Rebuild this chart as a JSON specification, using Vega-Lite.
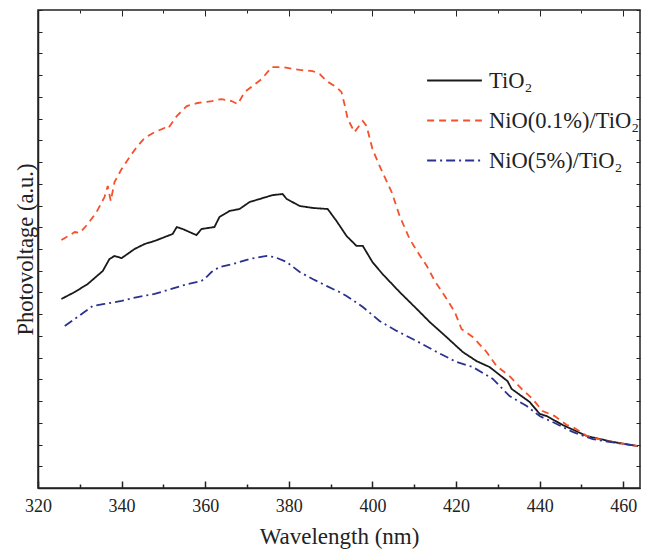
{
  "$schema": "https://vega.github.io/schema/vega-lite/v6.json",
  "width": 602,
  "height": 478,
  "autosize": "none",
  "padding": {"left": 38, "top": 10, "right": 5, "bottom": 64},
  "background": "white",
  "config": {
    "view": {"stroke": "#222", "strokeWidth": 1.5},
    "font": "Times New Roman, Liberation Serif, DejaVu Serif, serif"
  },
  "data": {
    "values": [
      {"s": "TiO₂", "wl": 325.6, "v": 8.70},
      {"s": "TiO₂", "wl": 328.8, "v": 9.02},
      {"s": "TiO₂", "wl": 331.9, "v": 9.39},
      {"s": "TiO₂", "wl": 335.5, "v": 9.99},
      {"s": "TiO₂", "wl": 337.1, "v": 10.54},
      {"s": "TiO₂", "wl": 338.3, "v": 10.68},
      {"s": "TiO₂", "wl": 340.0, "v": 10.58},
      {"s": "TiO₂", "wl": 343.1, "v": 11.00},
      {"s": "TiO₂", "wl": 345.5, "v": 11.23},
      {"s": "TiO₂", "wl": 347.9, "v": 11.37},
      {"s": "TiO₂", "wl": 350.3, "v": 11.55},
      {"s": "TiO₂", "wl": 352.2, "v": 11.69},
      {"s": "TiO₂", "wl": 353.2, "v": 12.01},
      {"s": "TiO₂", "wl": 354.6, "v": 11.92},
      {"s": "TiO₂", "wl": 357.9, "v": 11.64},
      {"s": "TiO₂", "wl": 359.1, "v": 11.92},
      {"s": "TiO₂", "wl": 362.2, "v": 12.01},
      {"s": "TiO₂", "wl": 363.4, "v": 12.47},
      {"s": "TiO₂", "wl": 365.8, "v": 12.75},
      {"s": "TiO₂", "wl": 368.2, "v": 12.84},
      {"s": "TiO₂", "wl": 370.6, "v": 13.16},
      {"s": "TiO₂", "wl": 373.0, "v": 13.30},
      {"s": "TiO₂", "wl": 376.1, "v": 13.48},
      {"s": "TiO₂", "wl": 378.5, "v": 13.53},
      {"s": "TiO₂", "wl": 379.5, "v": 13.30},
      {"s": "TiO₂", "wl": 382.6, "v": 12.98},
      {"s": "TiO₂", "wl": 385.7, "v": 12.89},
      {"s": "TiO₂", "wl": 389.3, "v": 12.84},
      {"s": "TiO₂", "wl": 391.4, "v": 12.29},
      {"s": "TiO₂", "wl": 393.8, "v": 11.60},
      {"s": "TiO₂", "wl": 396.2, "v": 11.14},
      {"s": "TiO₂", "wl": 397.7, "v": 11.14},
      {"s": "TiO₂", "wl": 400.0, "v": 10.40},
      {"s": "TiO₂", "wl": 402.4, "v": 9.85},
      {"s": "TiO₂", "wl": 406.5, "v": 9.02},
      {"s": "TiO₂", "wl": 410.6, "v": 8.24},
      {"s": "TiO₂", "wl": 413.7, "v": 7.64},
      {"s": "TiO₂", "wl": 417.7, "v": 6.95},
      {"s": "TiO₂", "wl": 421.6, "v": 6.26},
      {"s": "TiO₂", "wl": 424.9, "v": 5.84},
      {"s": "TiO₂", "wl": 428.0, "v": 5.57},
      {"s": "TiO₂", "wl": 432.3, "v": 4.92},
      {"s": "TiO₂", "wl": 433.3, "v": 4.56},
      {"s": "TiO₂", "wl": 437.6, "v": 3.96},
      {"s": "TiO₂", "wl": 440.0, "v": 3.41},
      {"s": "TiO₂", "wl": 441.7, "v": 3.31},
      {"s": "TiO₂", "wl": 445.5, "v": 2.90},
      {"s": "TiO₂", "wl": 451.3, "v": 2.39},
      {"s": "TiO₂", "wl": 457.5, "v": 2.12},
      {"s": "TiO₂", "wl": 463.5, "v": 1.93},
      {"s": "NiO(0.1%)/TiO₂", "wl": 325.6, "v": 11.41},
      {"s": "NiO(0.1%)/TiO₂", "wl": 328.8, "v": 11.78},
      {"s": "NiO(0.1%)/TiO₂", "wl": 330.0, "v": 11.74},
      {"s": "NiO(0.1%)/TiO₂", "wl": 331.9, "v": 12.15},
      {"s": "NiO(0.1%)/TiO₂", "wl": 334.0, "v": 12.70},
      {"s": "NiO(0.1%)/TiO₂", "wl": 335.9, "v": 13.39},
      {"s": "NiO(0.1%)/TiO₂", "wl": 336.7, "v": 13.90},
      {"s": "NiO(0.1%)/TiO₂", "wl": 337.4, "v": 13.21},
      {"s": "NiO(0.1%)/TiO₂", "wl": 338.3, "v": 14.08},
      {"s": "NiO(0.1%)/TiO₂", "wl": 340.0, "v": 14.68},
      {"s": "NiO(0.1%)/TiO₂", "wl": 341.9, "v": 15.23},
      {"s": "NiO(0.1%)/TiO₂", "wl": 343.6, "v": 15.69},
      {"s": "NiO(0.1%)/TiO₂", "wl": 345.5, "v": 16.11},
      {"s": "NiO(0.1%)/TiO₂", "wl": 347.9, "v": 16.38},
      {"s": "NiO(0.1%)/TiO₂", "wl": 350.3, "v": 16.57},
      {"s": "NiO(0.1%)/TiO₂", "wl": 351.0, "v": 16.52},
      {"s": "NiO(0.1%)/TiO₂", "wl": 353.2, "v": 17.12},
      {"s": "NiO(0.1%)/TiO₂", "wl": 355.6, "v": 17.58},
      {"s": "NiO(0.1%)/TiO₂", "wl": 358.2, "v": 17.72},
      {"s": "NiO(0.1%)/TiO₂", "wl": 361.6, "v": 17.81},
      {"s": "NiO(0.1%)/TiO₂", "wl": 363.9, "v": 17.90},
      {"s": "NiO(0.1%)/TiO₂", "wl": 366.3, "v": 17.81},
      {"s": "NiO(0.1%)/TiO₂", "wl": 367.8, "v": 17.67},
      {"s": "NiO(0.1%)/TiO₂", "wl": 369.4, "v": 18.22},
      {"s": "NiO(0.1%)/TiO₂", "wl": 371.3, "v": 18.50},
      {"s": "NiO(0.1%)/TiO₂", "wl": 373.5, "v": 18.82},
      {"s": "NiO(0.1%)/TiO₂", "wl": 375.9, "v": 19.37},
      {"s": "NiO(0.1%)/TiO₂", "wl": 378.5, "v": 19.37},
      {"s": "NiO(0.1%)/TiO₂", "wl": 382.6, "v": 19.24},
      {"s": "NiO(0.1%)/TiO₂", "wl": 385.7, "v": 19.19},
      {"s": "NiO(0.1%)/TiO₂", "wl": 387.4, "v": 19.05},
      {"s": "NiO(0.1%)/TiO₂", "wl": 389.0, "v": 18.73},
      {"s": "NiO(0.1%)/TiO₂", "wl": 391.4, "v": 18.45},
      {"s": "NiO(0.1%)/TiO₂", "wl": 392.6, "v": 18.22},
      {"s": "NiO(0.1%)/TiO₂", "wl": 393.3, "v": 17.67},
      {"s": "NiO(0.1%)/TiO₂", "wl": 394.1, "v": 16.98},
      {"s": "NiO(0.1%)/TiO₂", "wl": 395.7, "v": 16.38},
      {"s": "NiO(0.1%)/TiO₂", "wl": 397.7, "v": 16.89},
      {"s": "NiO(0.1%)/TiO₂", "wl": 398.6, "v": 16.66},
      {"s": "NiO(0.1%)/TiO₂", "wl": 400.0, "v": 15.60},
      {"s": "NiO(0.1%)/TiO₂", "wl": 401.7, "v": 14.82},
      {"s": "NiO(0.1%)/TiO₂", "wl": 404.6, "v": 13.62},
      {"s": "NiO(0.1%)/TiO₂", "wl": 406.5, "v": 12.52},
      {"s": "NiO(0.1%)/TiO₂", "wl": 408.9, "v": 11.46},
      {"s": "NiO(0.1%)/TiO₂", "wl": 410.8, "v": 10.86},
      {"s": "NiO(0.1%)/TiO₂", "wl": 413.0, "v": 10.22},
      {"s": "NiO(0.1%)/TiO₂", "wl": 414.9, "v": 9.53},
      {"s": "NiO(0.1%)/TiO₂", "wl": 417.3, "v": 8.84},
      {"s": "NiO(0.1%)/TiO₂", "wl": 419.7, "v": 8.10},
      {"s": "NiO(0.1%)/TiO₂", "wl": 421.3, "v": 7.32},
      {"s": "NiO(0.1%)/TiO₂", "wl": 424.0, "v": 6.95},
      {"s": "NiO(0.1%)/TiO₂", "wl": 427.3, "v": 6.26},
      {"s": "NiO(0.1%)/TiO₂", "wl": 429.7, "v": 5.61},
      {"s": "NiO(0.1%)/TiO₂", "wl": 432.8, "v": 5.15},
      {"s": "NiO(0.1%)/TiO₂", "wl": 435.7, "v": 4.56},
      {"s": "NiO(0.1%)/TiO₂", "wl": 438.3, "v": 4.10},
      {"s": "NiO(0.1%)/TiO₂", "wl": 440.7, "v": 3.54},
      {"s": "NiO(0.1%)/TiO₂", "wl": 443.6, "v": 3.31},
      {"s": "NiO(0.1%)/TiO₂", "wl": 446.5, "v": 2.90},
      {"s": "NiO(0.1%)/TiO₂", "wl": 447.9, "v": 2.81},
      {"s": "NiO(0.1%)/TiO₂", "wl": 451.3, "v": 2.39},
      {"s": "NiO(0.1%)/TiO₂", "wl": 456.0, "v": 2.16},
      {"s": "NiO(0.1%)/TiO₂", "wl": 463.5, "v": 1.93},
      {"s": "NiO(5%)/TiO₂", "wl": 326.4, "v": 7.46},
      {"s": "NiO(5%)/TiO₂", "wl": 328.8, "v": 7.78},
      {"s": "NiO(5%)/TiO₂", "wl": 331.1, "v": 8.10},
      {"s": "NiO(5%)/TiO₂", "wl": 333.1, "v": 8.38},
      {"s": "NiO(5%)/TiO₂", "wl": 335.9, "v": 8.47},
      {"s": "NiO(5%)/TiO₂", "wl": 340.0, "v": 8.61},
      {"s": "NiO(5%)/TiO₂", "wl": 343.8, "v": 8.79},
      {"s": "NiO(5%)/TiO₂", "wl": 347.9, "v": 8.93},
      {"s": "NiO(5%)/TiO₂", "wl": 351.9, "v": 9.16},
      {"s": "NiO(5%)/TiO₂", "wl": 355.8, "v": 9.39},
      {"s": "NiO(5%)/TiO₂", "wl": 359.1, "v": 9.53},
      {"s": "NiO(5%)/TiO₂", "wl": 360.3, "v": 9.71},
      {"s": "NiO(5%)/TiO₂", "wl": 361.5, "v": 9.94},
      {"s": "NiO(5%)/TiO₂", "wl": 363.4, "v": 10.17},
      {"s": "NiO(5%)/TiO₂", "wl": 366.6, "v": 10.31},
      {"s": "NiO(5%)/TiO₂", "wl": 370.6, "v": 10.54},
      {"s": "NiO(5%)/TiO₂", "wl": 374.7, "v": 10.68},
      {"s": "NiO(5%)/TiO₂", "wl": 376.6, "v": 10.63},
      {"s": "NiO(5%)/TiO₂", "wl": 379.5, "v": 10.40},
      {"s": "NiO(5%)/TiO₂", "wl": 382.6, "v": 9.94},
      {"s": "NiO(5%)/TiO₂", "wl": 385.7, "v": 9.62},
      {"s": "NiO(5%)/TiO₂", "wl": 389.0, "v": 9.30},
      {"s": "NiO(5%)/TiO₂", "wl": 392.1, "v": 9.02},
      {"s": "NiO(5%)/TiO₂", "wl": 393.8, "v": 8.84},
      {"s": "NiO(5%)/TiO₂", "wl": 397.7, "v": 8.33},
      {"s": "NiO(5%)/TiO₂", "wl": 401.7, "v": 7.69},
      {"s": "NiO(5%)/TiO₂", "wl": 405.8, "v": 7.23},
      {"s": "NiO(5%)/TiO₂", "wl": 410.6, "v": 6.76},
      {"s": "NiO(5%)/TiO₂", "wl": 415.4, "v": 6.26},
      {"s": "NiO(5%)/TiO₂", "wl": 420.1, "v": 5.80},
      {"s": "NiO(5%)/TiO₂", "wl": 424.0, "v": 5.57},
      {"s": "NiO(5%)/TiO₂", "wl": 428.8, "v": 5.02},
      {"s": "NiO(5%)/TiO₂", "wl": 432.8, "v": 4.23},
      {"s": "NiO(5%)/TiO₂", "wl": 436.9, "v": 3.77},
      {"s": "NiO(5%)/TiO₂", "wl": 440.0, "v": 3.31},
      {"s": "NiO(5%)/TiO₂", "wl": 443.6, "v": 2.99},
      {"s": "NiO(5%)/TiO₂", "wl": 447.9, "v": 2.58},
      {"s": "NiO(5%)/TiO₂", "wl": 452.7, "v": 2.25},
      {"s": "NiO(5%)/TiO₂", "wl": 458.4, "v": 2.07},
      {"s": "NiO(5%)/TiO₂", "wl": 463.5, "v": 1.93}
    ]
  },
  "resolve": {"axis": {"x": "independent", "y": "independent"}},
  "layer": [
    {
      "mark": {"type": "line", "strokeWidth": 1.8},
      "encoding": {
        "x": {
          "field": "wl", "type": "quantitative",
          "scale": {"domain": [320, 464], "nice": false, "zero": false},
          "axis": {
            "orient": "bottom", "values": [320, 340, 360, 380, 400, 420, 440, 460],
            "tickSize": -7, "tickWidth": 1.5, "tickColor": "#222",
            "domainColor": "#222", "domainWidth": 1.5,
            "grid": false, "labelFont": "Times New Roman, Liberation Serif, DejaVu Serif, serif", "labelFontSize": 18,
            "labelColor": "#222", "labelPadding": 16, "labelFlush": false,
            "title": "Wavelength (nm)", "titleFont": "Times New Roman, Liberation Serif, DejaVu Serif, serif",
            "titleFontSize": 23, "titleFontWeight": "normal", "titleColor": "#222",
            "titlePadding": 10
          }
        },
        "y": {
          "field": "v", "type": "quantitative",
          "scale": {"domain": [0, 22], "nice": false},
          "axis": {
            "orient": "left",
            "values": [0,1,2,3,4,5,6,7,8,9,10,11,12,13,14,15,16,17,18,19,20,21,22],
            "tickSize": -4, "tickWidth": 1, "tickColor": "#222",
            "domainColor": "#222", "domainWidth": 1.5,
            "labels": false, "grid": false,
            "title": "Photovoltage (a.u.)", "titleFont": "Times New Roman, Liberation Serif, DejaVu Serif, serif",
            "titleFontSize": 22.5, "titleFontWeight": "normal", "titleColor": "#222",
            "titlePadding": 0
          }
        },
        "color": {
          "field": "s", "type": "nominal",
          "scale": {
            "domain": ["TiO₂", "NiO(0.1%)/TiO₂", "NiO(5%)/TiO₂"],
            "range": ["#1a1a1a", "#f4512c", "#2b3190"]
          },
          "legend": {
            "orient": "none", "legendX": 388, "legendY": 42,
            "title": null, "symbolType": "stroke", "symbolSize": 3000,
            "symbolStrokeWidth": 2, "labelFont": "Times New Roman, Liberation Serif, DejaVu Serif, serif",
            "labelFontSize": 22.5, "labelColor": "#222", "rowPadding": -2,
            "labelOffset": 6, "labelLimit": 300
          }
        },
        "strokeDash": {
          "field": "s", "type": "nominal",
          "scale": {
            "domain": ["TiO₂", "NiO(0.1%)/TiO₂", "NiO(5%)/TiO₂"],
            "range": [[1, 0], [7, 5], [9, 4, 2, 4]]
          },
          "legend": null
        }
      }
    },
    {
      "mark": {"type": "line", "strokeOpacity": 0},
      "encoding": {
        "detail": {"field": "s"},
        "x": {
          "field": "wl", "type": "quantitative",
          "axis": {
            "orient": "bottom", "values": [330, 350, 370, 390, 410, 430, 450],
            "tickSize": -4, "tickWidth": 1.5, "tickColor": "#222",
            "domain": false, "labels": false, "grid": false, "title": null
          }
        },
        "y": {
          "field": "v", "type": "quantitative",
          "axis": {
            "orient": "right",
            "values": [0,1,2,3,4,5,6,7,8,9,10,11,12,13,14,15,16,17,18,19,20,21,22],
            "tickSize": -4, "tickWidth": 1, "tickColor": "#222",
            "domain": false, "labels": false, "grid": false, "title": null
          }
        }
      }
    },
    {
      "mark": {"type": "line", "strokeOpacity": 0},
      "encoding": {
        "detail": {"field": "s"},
        "x": {
          "field": "wl", "type": "quantitative",
          "axis": {
            "orient": "top", "values": [320, 340, 360, 380, 400, 420, 440, 460],
            "tickSize": -6, "tickWidth": 1, "tickColor": "#222",
            "domain": false, "labels": false, "grid": false, "title": null
          }
        },
        "y": {"field": "v", "type": "quantitative", "axis": null}
      }
    },
    {
      "mark": {"type": "line", "strokeOpacity": 0},
      "encoding": {
        "detail": {"field": "s"},
        "x": {
          "field": "wl", "type": "quantitative",
          "axis": {
            "orient": "top", "values": [330, 350, 370, 390, 410, 430, 450],
            "tickSize": -3, "tickWidth": 1, "tickColor": "#222",
            "domain": false, "labels": false, "grid": false, "title": null
          }
        },
        "y": {"field": "v", "type": "quantitative", "axis": null}
      }
    }
  ]
}
